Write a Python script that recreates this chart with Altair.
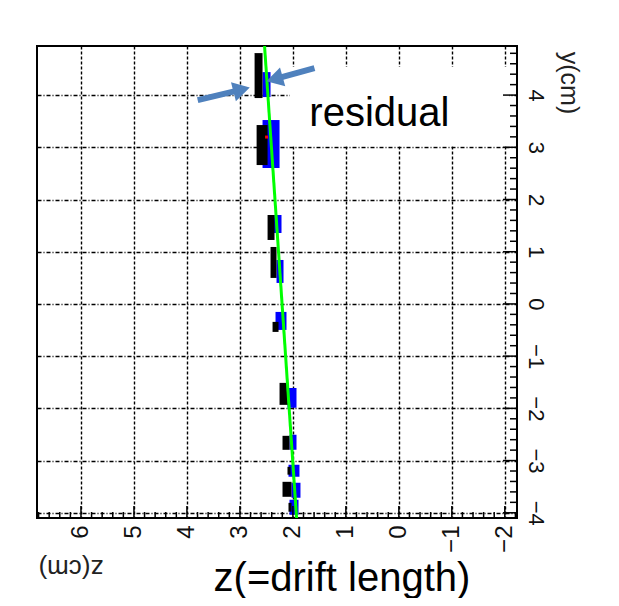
import altair as alt
import pandas as pd
import numpy as np

# ---------------- data ----------------
# hit clusters: black (measured charge) rectangles, z = drift length, y = position
black_z1 = [2.573, 2.478, 2.347, 2.309, 2.271, 2.083, 2.064, 2.045, 2.026, 2.026]
black_z2 = [2.723, 2.685, 2.478, 2.422, 2.384, 2.252, 2.196, 2.102, 2.196, 2.083]
black_y1 = [3.943, 2.660, 1.225, 0.498, -0.536, -1.933, -2.794, -3.270, -3.694, -3.980]
black_y2 = [4.804, 3.426, 1.703, 1.091, -0.344, -1.512, -2.526, -3.120, -3.407, -3.810]

blue_z1 = [2.422, 2.252, 2.215, 2.177, 2.121, 1.932, 1.932, 1.876, 1.857, 1.894]
blue_z2 = [2.573, 2.573, 2.441, 2.309, 2.328, 2.102, 2.064, 2.083, 2.026, 2.064]
blue_y1 = [3.962, 2.603, 1.359, 0.402, -0.498, -1.990, -2.794, -3.311, -3.713, -4.038]
blue_y2 = [4.440, 3.522, 1.703, 0.842, -0.153, -1.608, -2.507, -3.081, -3.426, -3.751]

red_z = [2.497]
red_y = [3.196]

# fitted track (green)
track_y = [4.94, -4.10]
track_z = [2.535, 1.930]

# annotation arrows (tail -> head centre), angle of head on screen
arrow_z = [3.797, 1.593]
arrow_y = [3.904, 4.517]
arrow_hz = [2.968, 2.347]
arrow_hy = [4.105, 4.306]
arrow_ang = [345.4, 164.4]

# tick labels
z_ticks = [-2, -1, 0, 1, 2, 3, 4, 5, 6]
y_ticks = [-4, -3, -2, -1, 0, 1, 2, 3, 4]

Z_DOMAIN = [-2.23, 6.83]
Y_DOMAIN = [-4.10, 4.94]
W, H = 480, 472
FONT = "Liberation Sans"

xs = alt.Scale(domain=Z_DOMAIN, reverse=True, nice=False, zero=False)
ys = alt.Scale(domain=Y_DOMAIN, nice=False, zero=False)

xaxis = alt.Axis(values=z_ticks, title=None, orient="bottom", labelAngle=270,
                 labelAlign="right", labelBaseline="middle", labelPadding=7,
                 ticks=False, domain=False, grid=True,
                 gridDash=[3, 2], labelFlush=False)
yaxis = alt.Axis(values=y_ticks, title=None, orient="right", labelAngle=90,
                 labelAlign="center", labelBaseline="bottom", labelPadding=6,
                 ticks=False, domain=False, grid=True,
                 gridDash=[4, 2, 1, 2], labelFlush=False)


def X(f):
    return alt.X(f, type="quantitative", scale=xs, axis=xaxis)


def Y(f):
    return alt.Y(f, type="quantitative", scale=ys, axis=yaxis)


black = pd.DataFrame({"z1": black_z1, "z2": black_z2, "y1": black_y1, "y2": black_y2})
blue = pd.DataFrame({"z1": blue_z1, "z2": blue_z2, "y1": blue_y1, "y2": blue_y2})
red = pd.DataFrame({"z": red_z, "y": red_y})
track = pd.DataFrame({"z": track_z, "y": track_y})
arrows = pd.DataFrame({"z": arrow_z, "y": arrow_y, "hz": arrow_hz, "hy": arrow_hy, "ang": arrow_ang})
box = pd.DataFrame({"z1": [2.06], "z2": [-2.08], "y1": [3.02], "y2": [4.54]})
label = pd.DataFrame({"z": [1.69], "y": [3.407], "t": ["residual"]})

minor_z = [round(v, 1) for v in np.arange(-2.2, 6.81, 0.2) if abs(v - round(v)) > 1e-6]
minor_y = [round(v, 1) for v in np.arange(-4.0, 4.81, 0.2) if abs(v - round(v)) > 1e-6]

base = alt.Chart(black).mark_rect(color="black").encode(
    x=X("z1"), x2="z2", y=Y("y1"), y2="y2")

box_l = alt.Chart(box).mark_rect(color="white").encode(
    x=X("z1"), x2="z2", y=Y("y1"), y2="y2")
blue_l = alt.Chart(blue).mark_rect(color="#0000ff").encode(
    x=X("z1"), x2="z2", y=Y("y1"), y2="y2")
red_l = alt.Chart(red).mark_square(color="#ff0000", size=9, opacity=1).encode(
    x=X("z"), y=Y("y"))
track_l = alt.Chart(track).mark_line(color="#00ff00", strokeWidth=3).encode(
    x=X("z"), y=Y("y"), order="y:Q")
shaft_l = alt.Chart(arrows).mark_rule(color="#4f81bd", strokeWidth=6).encode(
    x=X("z"), x2="hz", y=Y("y"), y2="hy")
head_l = alt.Chart(arrows).mark_point(shape="triangle-right", filled=True, color="#4f81bd",
                                      size=380, opacity=1).encode(
    x=X("hz"), y=Y("hy"), angle=alt.Angle("ang:Q", scale=None))
text_l = alt.Chart(label).mark_text(font=FONT, fontSize=40, align="left",
                                    baseline="alphabetic", color="black").encode(
    x=X("z"), y=Y("y"), text="t:N")

zt_major = alt.Chart(pd.DataFrame({"z": z_ticks})).mark_rule(color="black", strokeWidth=1.5).encode(
    x=X("z"), y=alt.value(H), y2=alt.value(H - 12))
zt_minor = alt.Chart(pd.DataFrame({"z": minor_z})).mark_rule(color="black", strokeWidth=1.5).encode(
    x=X("z"), y=alt.value(H), y2=alt.value(H - 6))
yt_major = alt.Chart(pd.DataFrame({"y": y_ticks})).mark_rule(color="black", strokeWidth=1.5).encode(
    y=Y("y"), x=alt.value(W), x2=alt.value(W - 14))
yt_minor = alt.Chart(pd.DataFrame({"y": minor_y})).mark_rule(color="black", strokeWidth=1.5).encode(
    y=Y("y"), x=alt.value(W), x2=alt.value(W - 7))

titles = pd.DataFrame({"t": ["z(=drift length)"]})
t_drift = alt.Chart(titles).mark_text(font=FONT, fontSize=40, align="center",
                                      baseline="alphabetic", color="black").encode(
    text="t:N", x=alt.value(305), y=alt.value(545))
t_zcm = alt.Chart(pd.DataFrame({"t": ["z(cm)"]})).mark_text(
    font=FONT, fontSize=26, align="center", baseline="middle", angle=180, color="#222").encode(
    text="t:N", x=alt.value(34), y=alt.value(522))
t_ycm = alt.Chart(pd.DataFrame({"t": ["y(cm)"]})).mark_text(
    font=FONT, fontSize=25, align="center", baseline="middle", angle=90, color="#222").encode(
    text="t:N", x=alt.value(532), y=alt.value(37))

chart = alt.layer(
    box_l, blue_l, base, red_l, track_l, shaft_l, head_l, text_l,
    zt_major, zt_minor, yt_major, yt_minor, t_drift, t_zcm, t_ycm
).properties(
    width=W, height=H,
    autosize=alt.AutoSizeParams(type="none"),
    padding={"left": 29, "top": 38, "right": 94, "bottom": 80},
    background="white",
).configure_view(stroke="black", strokeWidth=2).configure_axisX(
    labelFontSize=24, labelFont=FONT, labelColor="#111",
    gridColor="black", gridWidth=1.4, gridOpacity=1,
).configure_axisY(
    labelFontSize=22, labelFont=FONT, labelColor="#111",
    gridColor="black", gridWidth=1.4, gridOpacity=1,
)

chart.save("out.html", embed_options={"renderer": "svg", "actions": False})
